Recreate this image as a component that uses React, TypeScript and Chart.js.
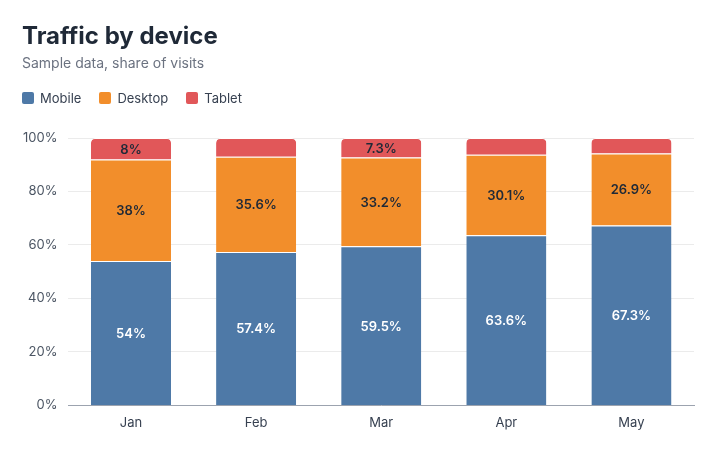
import Chart from "chart.js/auto";
import { useEffect, useRef } from "react";

const months = ["Jan", "Feb", "Mar", "Apr", "May"];
const seriesNames = ["Mobile", "Desktop", "Tablet"];
const mobile = [54, 57.4, 59.5, 63.6, 67.3];
const desktop = [38, 35.6, 33.2, 30.1, 26.9];
const tablet = [8, 7, 7.3, 6.3, 5.8];
const yTicks = [0, 20, 40, 60, 80, 100];

const colors = ["#4e79a7", "#f28e2b", "#e15759"];
const labelColors = ["#ffffff", "#1f2937", "#1f2937"];
const FONT = "Inter, 'Noto Sans', sans-serif";

// rótulos no meio de cada segmento (esconde os muito baixos)
const segmentLabels = {
  id: "segmentLabels",
  afterDatasetsDraw(chart: any) {
    const ctx = chart.ctx;
    ctx.save();
    ctx.font = `600 13px ${FONT}`;
    ctx.textAlign = "center";
    ctx.textBaseline = "middle";
    chart.data.datasets.forEach((ds: any, i: number) => {
      const meta = chart.getDatasetMeta(i);
      meta.data.forEach((bar: any, j: number) => {
        const v = ds.data[j];
        if (v < 7.1) return;
        const { x, y, base } = bar.getProps(["x", "y", "base"], true);
        ctx.fillStyle = labelColors[i];
        ctx.fillText(`${v}%`, x, (y + base) / 2 + 1);
      });
    });
    ctx.restore();
  },
};

export default function App() {
  const canvasRef = useRef<HTMLCanvasElement>(null);

  useEffect(() => {
    if (!canvasRef.current) return;
    document.body.style.margin = "0";

    const values = [mobile, desktop, tablet];
    const chart = new Chart(canvasRef.current, {
      type: "bar",
      data: {
        labels: months,
        datasets: seriesNames.map((name, i) => ({
          label: name,
          data: values[i],
          backgroundColor: colors[i],
          borderColor: "#ffffff",
          borderWidth: { top: 1, left: 0, right: 0, bottom: 0 },
          borderSkipped: "start" as const,
          borderRadius: i === 2 ? { topLeft: 5, topRight: 5 } : 0,
          categoryPercentage: 0.8,
          barPercentage: 0.8,
        })),
      },
      plugins: [segmentLabels],
      options: {
        animation: false,
        responsive: false,
        layout: { padding: { top: 138, left: 12, right: 26, bottom: 17 } },
        plugins: {
          legend: { display: false },
          tooltip: { enabled: false },
        },
        scales: {
          x: {
            stacked: true,
            grid: { display: false },
            border: { color: "#9ca3af", width: 1 },
            ticks: {
              color: "#374151",
              padding: 2,
              font: { family: FONT, size: 13 },
            },
          },
          y: {
            stacked: true,
            min: 0,
            max: 100,
            afterBuildTicks: (axis: any) => {
              axis.ticks = yTicks.map((v) => ({ value: v }));
            },
            grid: { color: "#ebebeb", drawTicks: false },
            border: { display: false },
            ticks: {
              color: "#4b5563",
              padding: 11,
              font: { family: FONT, size: 13 },
              callback: (v: any) => `${v}%`,
            },
          },
        },
      },
    });

    return () => {
      chart.destroy();
    };
  }, []);

  return (
    <div style={{ position: "fixed", left: 0, top: 0, width: 720, height: 450, background: "#fff", fontFamily: FONT }}>
      <canvas ref={canvasRef} width={720} height={450} style={{ position: "absolute", left: 0, top: 0 }}></canvas>
      <div style={{ position: "absolute", left: 22, top: 20, pointerEvents: "none" }}>
        <div style={{ fontSize: 24, fontWeight: 700, color: "#1f2937", lineHeight: "32px" }}>Traffic by device</div>
        <div style={{ fontSize: 14, color: "#6b7280", lineHeight: "20px", marginTop: 1 }}>Sample data, share of visits</div>
        <div style={{ display: "flex", gap: 18, marginTop: 16, fontSize: 13, color: "#374151", lineHeight: "18px" }}>
          {seriesNames.map((name, i) => (
            <div key={name} style={{ display: "flex", alignItems: "center" }}>
              <span style={{ width: 12, height: 12, borderRadius: 2, background: colors[i], marginRight: 6 }}></span>
              {name}
            </div>
          ))}
        </div>
      </div>
    </div>
  );
}
